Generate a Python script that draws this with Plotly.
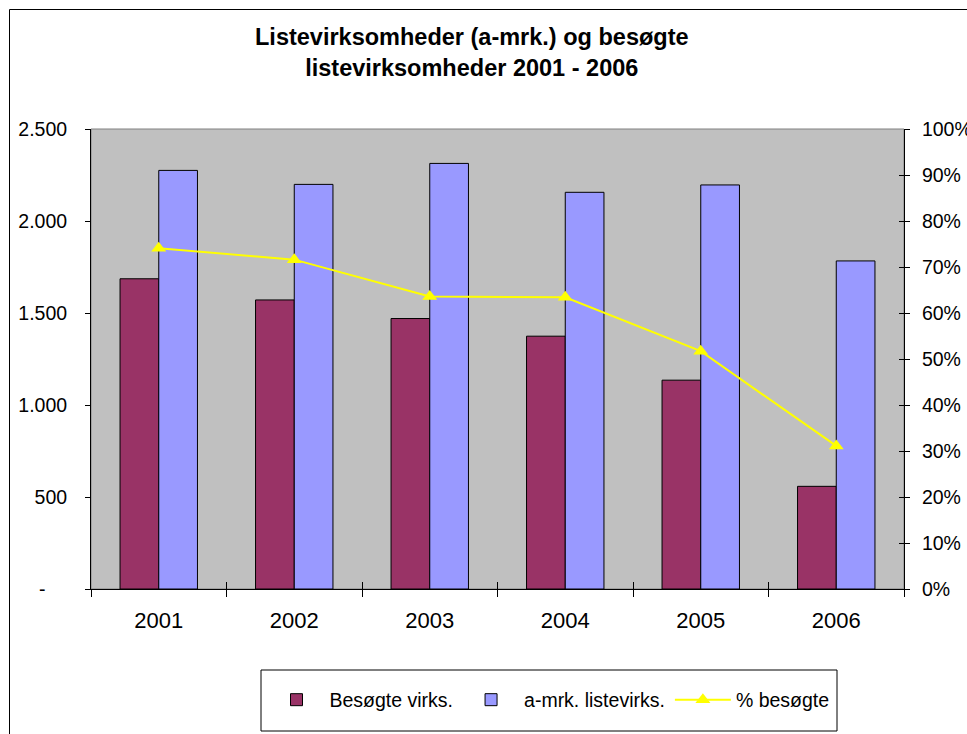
import plotly.graph_objects as go

# Data
years = ["2001", "2002", "2003", "2004", "2005", "2006"]
besogte_virks = [1686, 1571, 1470, 1374, 1135, 558]
liste_virks = [2275, 2199, 2313, 2156, 2196, 1783]
pct_besogte = [0.741, 0.716, 0.636, 0.634, 0.517, 0.311]

left_ticks = [0, 500, 1000, 1500, 2000, 2500]
left_ticktext = ["-\u00a0\u00a0\u00a0\u00a0", "500", "1.000", "1.500", "2.000", "2.500"]
right_ticks = [i / 10 for i in range(11)]
right_ticktext = [f"{i * 10}%" for i in range(11)]

FONT = "Liberation Sans, Arial, sans-serif"
W, H = 967, 734
L, R, T, B = 91, 63, 129, 145
PW, PH = W - L - R, H - T - B


def px_x(x):
    return (x - L) / PW


def px_y(y):
    return (H - B - y) / PH


fig = go.Figure()

fig.add_trace(go.Bar(
    x=years, y=besogte_virks, name="Besøgte virks.",
    marker=dict(color="#993366", line=dict(color="black", width=1)),
))
fig.add_trace(go.Bar(
    x=years, y=liste_virks, name="a-mrk. listevirks.",
    marker=dict(color="#9999FF", line=dict(color="black", width=1)),
))
fig.add_trace(go.Scatter(
    x=years, y=pct_besogte, name="% besøgte", yaxis="y2",
    mode="lines+markers",
    line=dict(color="#FFFF00", width=2),
    marker=dict(symbol="triangle-up", size=13, color="#FFFF00"),
))
# Empty trace so the overlay axes (inner half of crossing ticks) get drawn
fig.add_trace(go.Scatter(
    x=[None], y=[None], xaxis="x2", yaxis="y3", mode="markers",
    showlegend=False, hoverinfo="skip",
))

# Boundaries between categories, for the upper half of the crossing ticks
boundaries = [i - 0.5 for i in range(len(years) + 1)]

fig.update_layout(
    width=W, height=H, autosize=False,
    margin=dict(l=L, r=R, t=T, b=B, pad=0, autoexpand=False),
    paper_bgcolor="white",
    plot_bgcolor="#C0C0C0",
    font=dict(family=FONT, color="black"),
    barmode="group",
    bargap=1.5 / 3.5,
    bargroupgap=0,
    xaxis=dict(
        type="category", categoryorder="array", categoryarray=years,
        showline=True, linecolor="black", linewidth=1,
        ticks="outside", tickson="boundaries", ticklen=7, tickcolor="black",
        tickfont=dict(size=22), showgrid=False, automargin=False,
        ticklabelstandoff=12,
    ),
    xaxis2=dict(
        overlaying="x", anchor="y", side="bottom", type="linear",
        range=[-0.5, len(years) - 0.5], tickvals=boundaries,
        ticks="inside", ticklen=7, tickcolor="black",
        showticklabels=False, showgrid=False, zeroline=False,
        showline=False, automargin=False,
    ),
    yaxis=dict(
        range=[0, 2500], tickvals=left_ticks, ticktext=left_ticktext,
        showline=True, linecolor="black", linewidth=1,
        ticks="outside", ticklen=5, tickcolor="black",
        tickfont=dict(size=19.5), showgrid=False, zeroline=False,
        ticklabelstandoff=14, automargin=False,
    ),
    yaxis2=dict(
        overlaying="y", side="right", range=[0, 1],
        tickvals=right_ticks, ticktext=right_ticktext,
        showline=True, linecolor="black", linewidth=1,
        ticks="outside", ticklen=5, tickcolor="black",
        tickfont=dict(size=19.5), showgrid=False, zeroline=False,
        ticklabelstandoff=8, automargin=False,
    ),
    yaxis3=dict(
        overlaying="y", side="right", anchor="x", range=[0, 1],
        tickvals=right_ticks, ticks="inside", ticklen=5, tickcolor="black",
        showticklabels=False, showgrid=False, zeroline=False,
        showline=False, automargin=False,
    ),
    legend=dict(
        orientation="h",
        x=px_x(549), xanchor="center",
        y=px_y(700), yanchor="middle",
        bgcolor="rgba(0,0,0,0)", borderwidth=0,
        font=dict(size=19.5),
        itemwidth=56,
    ),
    showlegend=True,
)

# Chart title
fig.add_annotation(
    text="<b>Listevirksomheder (a-mrk.) og besøgte</b><br><b>listevirksomheder 2001 - 2006</b>",
    font=dict(family=FONT, size=23.5, color="black"),
    xref="paper", x=px_x(472), xanchor="center",
    yref="paper", y=px_y(52.5), yanchor="middle",
    showarrow=False, align="center",
)

# Plot area frame, legend box and outer chart frame
fig.add_shape(type="rect", xref="paper", yref="paper", x0=0, x1=1, y0=0, y1=1,
              line=dict(color="#808080", width=1), layer="below")
fig.add_shape(type="rect", xref="paper", yref="paper",
              x0=px_x(261), x1=px_x(837), y0=px_y(731), y1=px_y(670),
              line=dict(color="black", width=1), fillcolor="white", layer="below")
fig.add_shape(type="rect", xref="paper", yref="paper",
              x0=px_x(9.5), x1=px_x(990), y0=px_y(760), y1=px_y(9.5),
              line=dict(color="black", width=1), layer="below")

fig.write_html("out.html")
